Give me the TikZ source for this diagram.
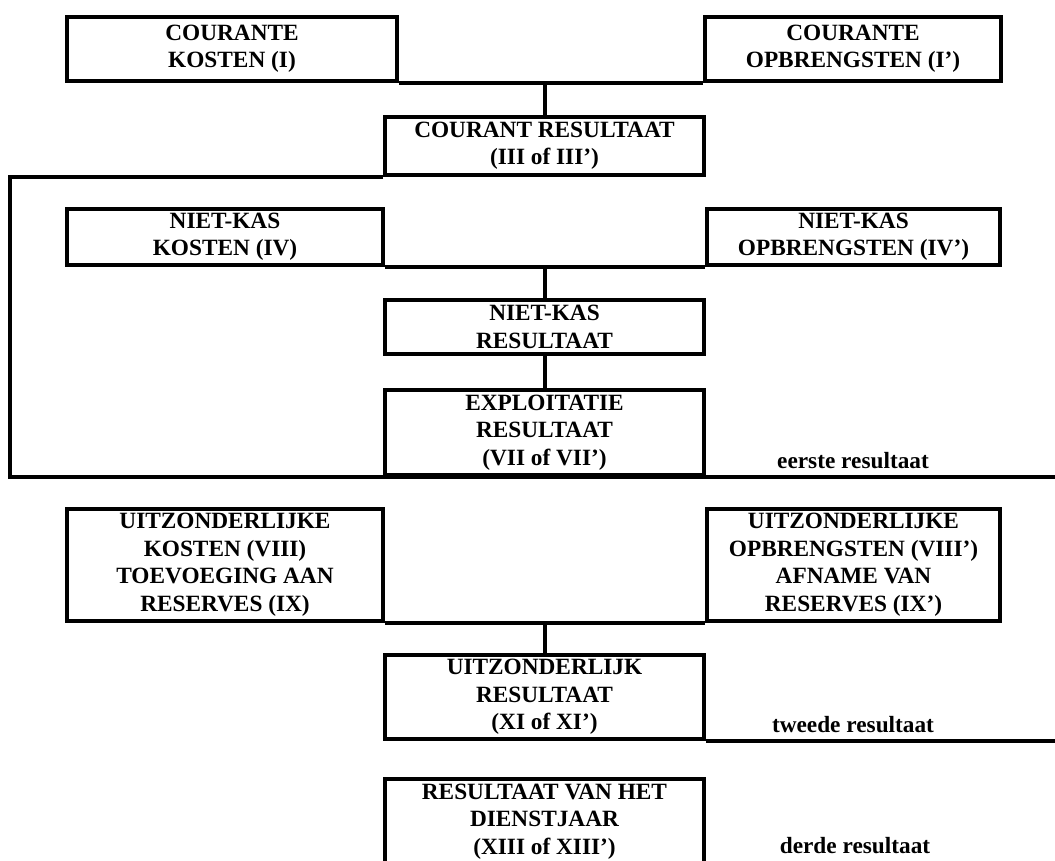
\documentclass[tikz,border=0pt]{standalone}
\usepackage{fontspec}
\setmainfont{Liberation Serif}

\begin{document}
\begin{tikzpicture}[x=1pt, y=-1pt, line width=4pt,
    every node/.style={font=\bfseries\fontsize{23.3}{27.5}\selectfont},
    postbox/.style={draw, align=center, inner sep=1pt, minimum width=#1},
    resbox/.style={postbox=319},
    hgt/.style={minimum height=#1}]
  \path[use as bounding box, clip] (0,0) rectangle (1055,860);
  \coordinate (fl) at (10,0);
  \coordinate (fr) at (1060,0);

  % courant
  \node[postbox=330, hgt=64] (ck) at (232,49) {COURANTE\\KOSTEN (I)};
  \node[postbox=296, hgt=64] (co) at (853,49) {COURANTE\\OPBRENGSTEN (I’)};
  \node[resbox, hgt=58] (cr) at (544.5,146) {COURANT RESULTAAT\\(III of III’)};

  % niet-kas
  \node[postbox=316, hgt=56] (nk) at (225,237) {NIET-KAS\\KOSTEN (IV)};
  \node[postbox=293, hgt=56] (no) at (853.5,237) {NIET-KAS\\OPBRENGSTEN (IV’)};
  \node[resbox, hgt=54] (nr) at (544.5,327) {NIET-KAS\\RESULTAAT};
  \node[resbox, hgt=85] (er) at (544.5,432.5) {EXPLOITATIE\\RESULTAAT\\(VII of VII’)};

  % uitzonderlijk
  \node[postbox=316, hgt=112] (uk) at (225,565)
    {UITZONDERLIJKE\\KOSTEN (VIII)\\TOEVOEGING AAN\\RESERVES (IX)};
  \node[postbox=293, hgt=112] (uo) at (853.5,565)
    {UITZONDERLIJKE\\OPBRENGSTEN (VIII’)\\AFNAME VAN\\RESERVES (IX’)};
  \node[resbox, hgt=84] (ur) at (544.5,697) {UITZONDERLIJK\\RESULTAAT\\(XI of XI’)};
  \node[resbox, hgt=85] (dr) at (544.5,821.5) {RESULTAAT VAN HET\\DIENSTJAAR\\(XIII of XIII’)};

  \node[anchor=base] (eerste) at (853,468) {eerste resultaat};
  \node[anchor=base] (tweede) at (853,732) {tweede resultaat};
  \node[anchor=base] (derde) at (855,853) {derde resultaat};

  \draw (ck.south east) -- (co.south west);
  \draw (cr.north) -- (cr.north |- ck.south);
  \draw (nk.south east) -- (no.south west);
  \draw (nr.north) -- (nr.north |- nk.south);
  \draw (nr.south) -- (er.north);
  \draw (cr.south west) -- (cr.south west -| fl) -- (er.south -| fl) -- (er.south -| fr);
  \draw (uk.south east) -- (uo.south west);
  \draw (ur.north) -- (ur.north |- uk.south);
  \draw (ur.south east) -- (ur.south -| fr);
\end{tikzpicture}
\end{document}
